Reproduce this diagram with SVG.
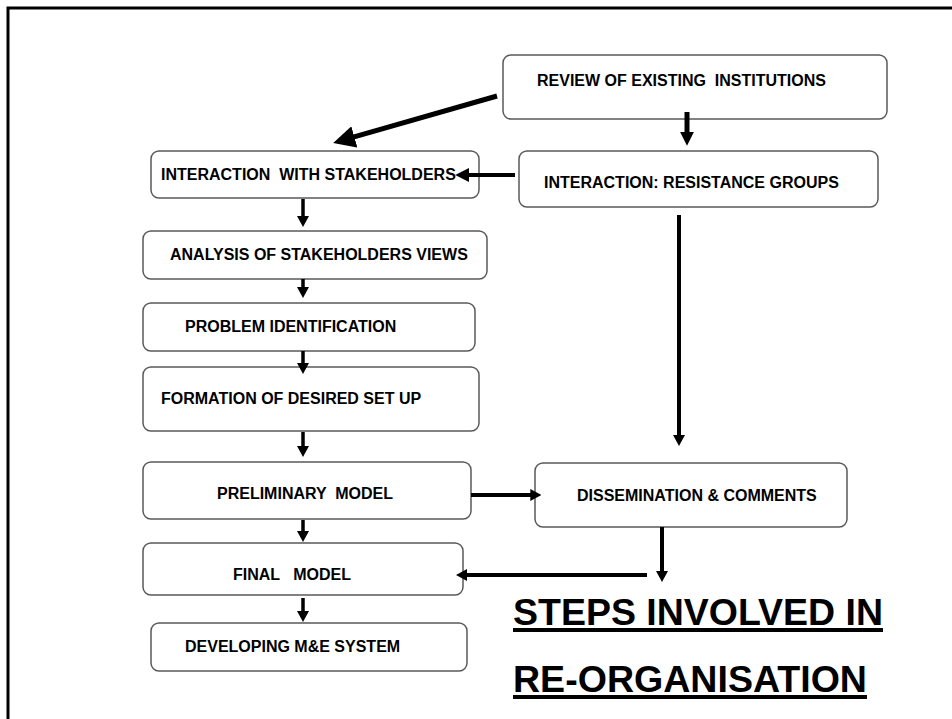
<svg xmlns="http://www.w3.org/2000/svg" width="952" height="719" viewBox="0 0 952 719">
<style>
.box{fill:#fff;stroke:#5a5a5a;stroke-width:1.5}
.lbl{font-family:"Liberation Sans",Arial,sans-serif;font-weight:bold;font-size:16px;fill:#000;white-space:pre}
.title{font-family:"Liberation Sans",Arial,sans-serif;font-weight:bold;font-size:37px;fill:#000}
.ul{stroke:#000;stroke-width:4}
.c{fill:none;stroke:#000}
</style>
<defs>
<marker id="hs" viewBox="0 0 10 10" refX="3" refY="5" markerWidth="11" markerHeight="12" markerUnits="userSpaceOnUse" orient="auto" preserveAspectRatio="none"><path d="M0,0 L10,5 L0,10 z" fill="#000"/></marker>
<marker id="hm" viewBox="0 0 10 10" refX="3" refY="5" markerWidth="14" markerHeight="14" markerUnits="userSpaceOnUse" orient="auto" preserveAspectRatio="none"><path d="M0,0 L10,5 L0,10 z" fill="#000"/></marker>
<marker id="hl" viewBox="0 0 10 10" refX="3" refY="5" markerWidth="22" markerHeight="22" markerUnits="userSpaceOnUse" orient="auto" preserveAspectRatio="none"><path d="M0,0 L10,5 L0,10 z" fill="#000"/></marker>
</defs>
<rect x="0" y="0" width="952" height="719" fill="#fff"/>
<path d="M8,719 V8 H952" fill="none" stroke="#000" stroke-width="3"/>

<g id="review"><rect class="box" x="503" y="55" width="384" height="64" rx="8"/><text class="lbl" x="537" y="86" xml:space="preserve">REVIEW OF EXISTING  INSTITUTIONS</text></g>
<g id="stakeholders"><rect class="box" x="151" y="151" width="328" height="47" rx="8"/><text class="lbl" x="161" y="180" xml:space="preserve">INTERACTION  WITH STAKEHOLDERS</text></g>
<g id="resistance"><rect class="box" x="519" y="151" width="359" height="56" rx="8"/><text class="lbl" x="544" y="188">INTERACTION: RESISTANCE GROUPS</text></g>
<g id="analysis"><rect class="box" x="143" y="231" width="344" height="48" rx="8"/><text class="lbl" x="170" y="260">ANALYSIS OF STAKEHOLDERS VIEWS</text></g>
<g id="problem"><rect class="box" x="143" y="303" width="332" height="48" rx="8"/><text class="lbl" x="185" y="332">PROBLEM IDENTIFICATION</text></g>
<g id="formation"><rect class="box" x="143" y="367" width="336" height="64" rx="8"/><text class="lbl" x="161" y="404">FORMATION OF DESIRED SET UP</text></g>
<g id="preliminary"><rect class="box" x="143" y="462" width="328" height="57" rx="8"/><text class="lbl" x="217" y="499" xml:space="preserve">PRELIMINARY  MODEL</text></g>
<g id="dissemination"><rect class="box" x="535" y="463" width="312" height="64" rx="8"/><text class="lbl" x="577" y="501">DISSEMINATION &amp; COMMENTS</text></g>
<g id="final"><rect class="box" x="143" y="543" width="320" height="52" rx="8"/><text class="lbl" x="233" y="580" xml:space="preserve">FINAL   MODEL</text></g>
<g id="developing"><rect class="box" x="151" y="623" width="316" height="48" rx="8"/><text class="lbl" x="185" y="652">DEVELOPING M&amp;E SYSTEM</text></g>

<g id="connectors">
<path class="c" d="M497,96 L348,138.7" stroke-width="5" marker-end="url(#hl)"/>
<path class="c" d="M687,112 V136" stroke-width="5" marker-end="url(#hm)"/>
<path class="c" d="M515,175 H465" stroke-width="4" marker-end="url(#hm)"/>
<path class="c" d="M303,199 V219.3" stroke-width="3.5" marker-end="url(#hs)"/>
<path class="c" d="M303,279 V290.3" stroke-width="3.5" marker-end="url(#hs)"/>
<path class="c" d="M303,351 V366.3" stroke-width="3.5" marker-end="url(#hs)"/>
<path class="c" d="M303,432 V449.3" stroke-width="3.5" marker-end="url(#hs)"/>
<path class="c" d="M303,520 V534.3" stroke-width="3.5" marker-end="url(#hs)"/>
<path class="c" d="M303,598 V614.3" stroke-width="3.5" marker-end="url(#hs)"/>
<path class="c" d="M471,495 H533.6" stroke-width="4" marker-end="url(#hs)"/>
<path class="c" d="M679,215 V438.3" stroke-width="4" marker-end="url(#hs)"/>
<path class="c" d="M662,527 V574.3" stroke-width="4" marker-end="url(#hs)"/>
<path class="c" d="M647,575 H463.7" stroke-width="4" marker-end="url(#hs)"/>
</g>

<g id="title">
<text class="title" x="513" y="625" textLength="370" lengthAdjust="spacingAndGlyphs">STEPS INVOLVED IN</text>
<line class="ul" x1="513" y1="630" x2="883" y2="630"/>
<text class="title" x="513" y="692" textLength="354" lengthAdjust="spacingAndGlyphs">RE-ORGANISATION</text>
<line class="ul" x1="513" y1="697" x2="867" y2="697"/>
</g>
</svg>
